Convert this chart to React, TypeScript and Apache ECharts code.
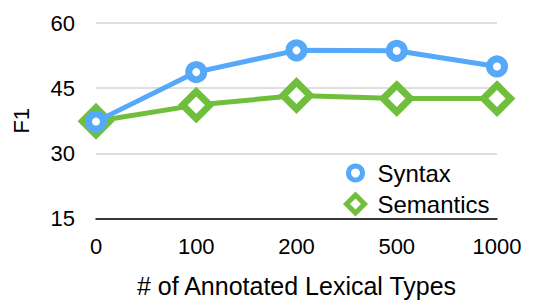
import React, { useEffect, useRef } from "react";
import * as echarts from "echarts";

const categories = ["0", "100", "200", "500", "1000"];
const syntax = [37.3, 48.7, 53.7, 53.6, 50.0];
const semantics = [37.4, 41.1, 43.3, 42.6, 42.6];
const yTicks = { min: 15, max: 60, interval: 15 };

const BLUE = "#56a9f9";
const GREEN = "#6fbf3d";
const FONT = "Liberation Sans";

export default function App() {
  const ref = useRef<HTMLDivElement>(null);
  useEffect(() => {
    if (!ref.current) return;
    const chart = echarts.init(ref.current, undefined, { renderer: "svg" });
    const legendText = { fontSize: 24, color: "#000", fontFamily: FONT, lineHeight: 24 };
    chart.setOption({
      animation: false,
      backgroundColor: "#ffffff",
      textStyle: { fontFamily: FONT },
      grid: {
        left: 96,
        right: 50,
        top: 23,
        bottom: 302 - 218.5,
        containLabel: false,
        outerBoundsMode: "none",
      },
      legend: [
        {
          orient: "vertical",
          left: 346,
          top: 161,
          padding: 0,
          itemWidth: 14,
          itemHeight: 14,
          textStyle: { ...legendText, padding: [0, 0, 0, 10] },
          data: [
            { name: "Syntax", icon: "circle", itemStyle: { color: "#fff", borderColor: BLUE, borderWidth: 5 } },
          ],
        },
        {
          orient: "vertical",
          left: 344,
          top: 192,
          padding: 0,
          itemWidth: 18,
          itemHeight: 18,
          textStyle: { ...legendText, padding: [0, 0, 0, 8] },
          data: [
            { name: "Semantics", icon: "diamond", itemStyle: { color: "#fff", borderColor: GREEN, borderWidth: 5 } },
          ],
        },
      ],
      xAxis: {
        type: "category",
        data: categories,
        boundaryGap: false,
        axisLine: { lineStyle: { color: "#000", width: 1.5 } },
        axisTick: { show: false },
        axisLabel: { fontSize: 22, color: "#000", margin: 17, fontFamily: FONT },
        name: "# of Annotated Lexical Types",
        nameLocation: "middle",
        nameGap: 55,
        nameTextStyle: { fontSize: 25, color: "#000", fontFamily: FONT },
      },
      yAxis: {
        type: "value",
        min: yTicks.min,
        max: yTicks.max,
        interval: yTicks.interval,
        axisLine: { show: false },
        axisTick: { show: false },
        splitLine: { lineStyle: { color: "#d4d4d4", width: 1.5 } },
        axisLabel: { fontSize: 22, color: "#000", margin: 21, fontFamily: FONT },
        name: "F1",
        nameLocation: "middle",
        nameGap: 64,
        nameTextStyle: { fontSize: 22, color: "#000", fontFamily: FONT },
      },
      series: [
        {
          name: "Semantics",
          type: "line",
          data: semantics,
          symbol: "diamond",
          symbolSize: 27,
          lineStyle: { color: GREEN, width: 5 },
          itemStyle: { color: "#fff", borderColor: GREEN, borderWidth: 7 },
          z: 2,
        },
        {
          name: "Syntax",
          type: "line",
          data: syntax,
          symbol: "circle",
          symbolSize: 15,
          lineStyle: { color: BLUE, width: 5 },
          itemStyle: { color: "#fff", borderColor: BLUE, borderWidth: 7 },
          z: 3,
        },
      ],
    });
    return () => chart.dispose();
  }, []);
  return (
    <div
      ref={ref}
      style={{ position: "absolute", left: 0, top: 0, width: 547, height: 302 }}
    />
  );
}
